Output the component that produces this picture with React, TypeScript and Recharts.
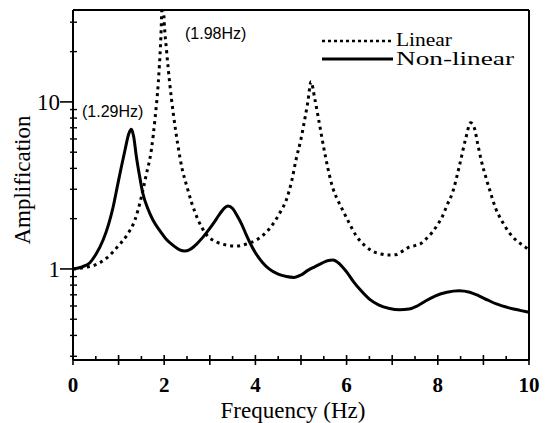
import { LineChart, Line, XAxis, YAxis, ReferenceLine, Customized } from 'recharts';

const linearFreq = [
  0, 0.25, 0.5, 0.75, 1.0, 1.2, 1.36, 1.5, 1.6, 1.72, 1.8, 1.87, 1.92, 1.97,
  2.0, 2.05, 2.12, 2.2, 2.3, 2.4, 2.5, 2.6, 2.75, 2.93, 3.15, 3.36, 3.58, 3.8,
  4.02, 4.2, 4.38, 4.55, 4.68, 4.8, 4.89, 5.0, 5.08, 5.15, 5.22, 5.3, 5.4, 5.5,
  5.59, 5.69, 5.8, 5.91, 6.05, 6.21, 6.4, 6.56, 6.75, 6.94, 7.1, 7.19, 7.27,
  7.37, 7.5, 7.63, 7.75, 7.88, 8.0, 8.1, 8.2, 8.32, 8.47, 8.61, 8.72, 8.8, 8.87,
  8.95, 9.05, 9.15, 9.27, 9.4, 9.56, 9.7, 9.89, 10,
];
const linearAmp = [
  1.0, 1.02, 1.06, 1.17, 1.38, 1.62, 1.97, 2.7, 3.6, 5.2, 8.0, 13, 22, 45,
  30, 20.5, 13, 8.5, 5.5, 3.9, 3.1, 2.5, 1.95, 1.6, 1.45, 1.39, 1.37, 1.41,
  1.49, 1.62, 1.85, 2.2, 2.6, 3.4, 4.5, 6.0, 7.8, 10, 13.2, 10.5, 7.5, 5.3,
  4.0, 3.1, 2.6, 2.26, 1.9, 1.58, 1.38, 1.28, 1.23, 1.21, 1.22, 1.26, 1.3,
  1.35, 1.38, 1.42, 1.52, 1.66, 1.85, 2.06, 2.4, 2.85, 4.1, 6.0, 7.5, 7.0, 5.7,
  4.5, 3.57, 2.9, 2.3, 1.95, 1.66, 1.5, 1.37, 1.3,
];

const nonlinearFreq = [
  0, 0.2, 0.37, 0.5, 0.66, 0.78, 0.88, 0.97, 1.06, 1.15, 1.22, 1.28, 1.33, 1.39,
  1.46, 1.53, 1.64, 1.75, 1.9, 2.05, 2.2, 2.34, 2.45, 2.55, 2.7, 2.85, 3.0, 3.15,
  3.28, 3.4, 3.5, 3.6, 3.7, 3.8, 3.9, 4.0, 4.16, 4.3, 4.5, 4.68, 4.85, 5.0, 5.15,
  5.3, 5.45, 5.58, 5.7, 5.85, 6.0, 6.15, 6.3, 6.5, 6.7, 6.94, 7.16, 7.37, 7.55,
  7.74, 7.95, 8.2, 8.47, 8.7, 8.9, 9.1, 9.3, 9.56, 9.8, 10,
];
const nonlinearAmp = [
  1.0, 1.03, 1.09, 1.22, 1.49, 1.85, 2.35, 3.1, 4.08, 5.3, 6.4, 6.85, 6.2, 4.7,
  3.6, 2.85, 2.3, 1.97, 1.7, 1.5, 1.38, 1.3, 1.28, 1.3, 1.4, 1.55, 1.75, 2.0,
  2.25, 2.38, 2.3, 2.08, 1.85, 1.6, 1.4, 1.25, 1.09, 1.0, 0.93, 0.9, 0.89, 0.92, 0.98,
  1.03, 1.08, 1.12, 1.13, 1.07, 0.96, 0.84, 0.75, 0.66, 0.61, 0.58, 0.57, 0.575, 0.6,
  0.645, 0.69, 0.725, 0.74, 0.725, 0.69, 0.65, 0.615, 0.585, 0.565, 0.55,
];

const xTicks = [0, 0.5, 1, 1.5, 2, 2.5, 3, 3.5, 4, 4.5, 5, 5.5, 6, 6.5, 7, 7.5, 8, 8.5, 9, 9.5, 10];
const yTicks = [0.3, 0.4, 0.5, 0.6, 0.7, 0.8, 0.9, 1, 2, 3, 4, 5, 6, 7, 8, 9, 10, 20, 30];
const yMajor = [1, 10];
const yDomain = [0.285, 35.5];

const linearData = linearFreq.map((f, i) => ({ f, amp: linearAmp[i] }));
const nonlinearData = nonlinearFreq.map((f, i) => ({ f, amp: nonlinearAmp[i] }));

const SERIF = "'Liberation Serif', 'Times New Roman', serif";
const SANS = "'Liberation Sans', Arial, sans-serif";

const XTick = ({ x, y, payload }: any) => {
  const v = payload.value;
  const isInt = Number.isInteger(v);
  return (
    <g>
      <line x1={x} x2={x} y1={y - (isInt ? 5 : 4)} y2={y + (isInt ? 5 : 1)} stroke="#000" strokeWidth={1.6} />
      {isInt && v % 2 === 0 && (
        <text x={x} y={y + 32} textAnchor="middle" fontFamily={SERIF} fontSize={21} fontWeight={700} fill="#000">
          {v}
        </text>
      )}
    </g>
  );
};

const YTick = ({ x, y, payload }: any) => {
  const v = payload.value;
  if (yMajor.includes(v)) {
    return (
      <g>
        <line x1={x - 13} x2={x} y1={y} y2={y} stroke="#000" strokeWidth={1.6} />
        <text x={x - 13} y={y + 8} textAnchor="end" fontFamily={SERIF} fontSize={23} fill="#000">
          {v}
        </text>
      </g>
    );
  }
  return <line x1={x - 3} x2={x + 4} y1={y} y2={y} stroke="#000" strokeWidth={1.4} />;
};

const Annotations = () => (
  <g>
    <text x={82} y={117} fontFamily={SANS} fontSize={16} fill="#000">(1.29Hz)</text>
    <text x={185} y={39} fontFamily={SANS} fontSize={16} fill="#000">(1.98Hz)</text>
    <line x1={322} x2={393} y1={41} y2={41} stroke="#000" strokeWidth={2.5} strokeDasharray="3 3" />
    <line x1={322} x2={393} y1={59} y2={59} stroke="#000" strokeWidth={3} />
    <text x={396} y={46} fontFamily={SERIF} fontSize={19} fill="#000" textLength={56} lengthAdjust="spacingAndGlyphs">Linear</text>
    <text x={396} y={65} fontFamily={SERIF} fontSize={19} fill="#000" textLength={118} lengthAdjust="spacingAndGlyphs">Non-linear</text>
    <text x={293} y={418} textAnchor="middle" fontFamily={SERIF} fontSize={23} fill="#000">Frequency (Hz)</text>
    <text x={0} y={0} transform="translate(30,180) rotate(-90)" textAnchor="middle" fontFamily={SERIF} fontSize={23} fill="#000">Amplification</text>
  </g>
);

export default function App() {
  return (
    <div style={{ position: 'absolute', left: 0, top: 0, width: 550, height: 423, background: '#fff' }}>
      <LineChart width={550} height={423} margin={{ top: 10, right: 21, left: 0, bottom: 0 }}>
        <XAxis
          type="number"
          dataKey="f"
          domain={[0, 10]}
          ticks={xTicks}
          interval={0}
          height={63}
          tickSize={0}
          tickMargin={0}
          tick={<XTick />}
          axisLine={{ stroke: '#000', strokeWidth: 2 }}
          allowDuplicatedCategory={false}
        />
        <YAxis
          type="number"
          scale="log"
          domain={yDomain}
          ticks={yTicks}
          interval={0}
          width={73}
          tickSize={0}
          tickMargin={0}
          tick={<YTick />}
          allowDataOverflow
          axisLine={{ stroke: '#000', strokeWidth: 2 }}
        />
        <ReferenceLine y={yDomain[1]} stroke="#000" strokeWidth={2} ifOverflow="visible" />
        <ReferenceLine x={10} stroke="#000" strokeWidth={2} ifOverflow="visible" />
        <Line
          data={linearData}
          dataKey="amp"
          type="monotone"
          stroke="#000"
          strokeWidth={3}
          strokeDasharray="3 4"
          dot={false}
          isAnimationActive={false}
        />
        <Line
          data={nonlinearData}
          dataKey="amp"
          type="monotone"
          stroke="#000"
          strokeWidth={3}
          dot={false}
          isAnimationActive={false}
        />
        <Customized component={Annotations} />
      </LineChart>
    </div>
  );
}
